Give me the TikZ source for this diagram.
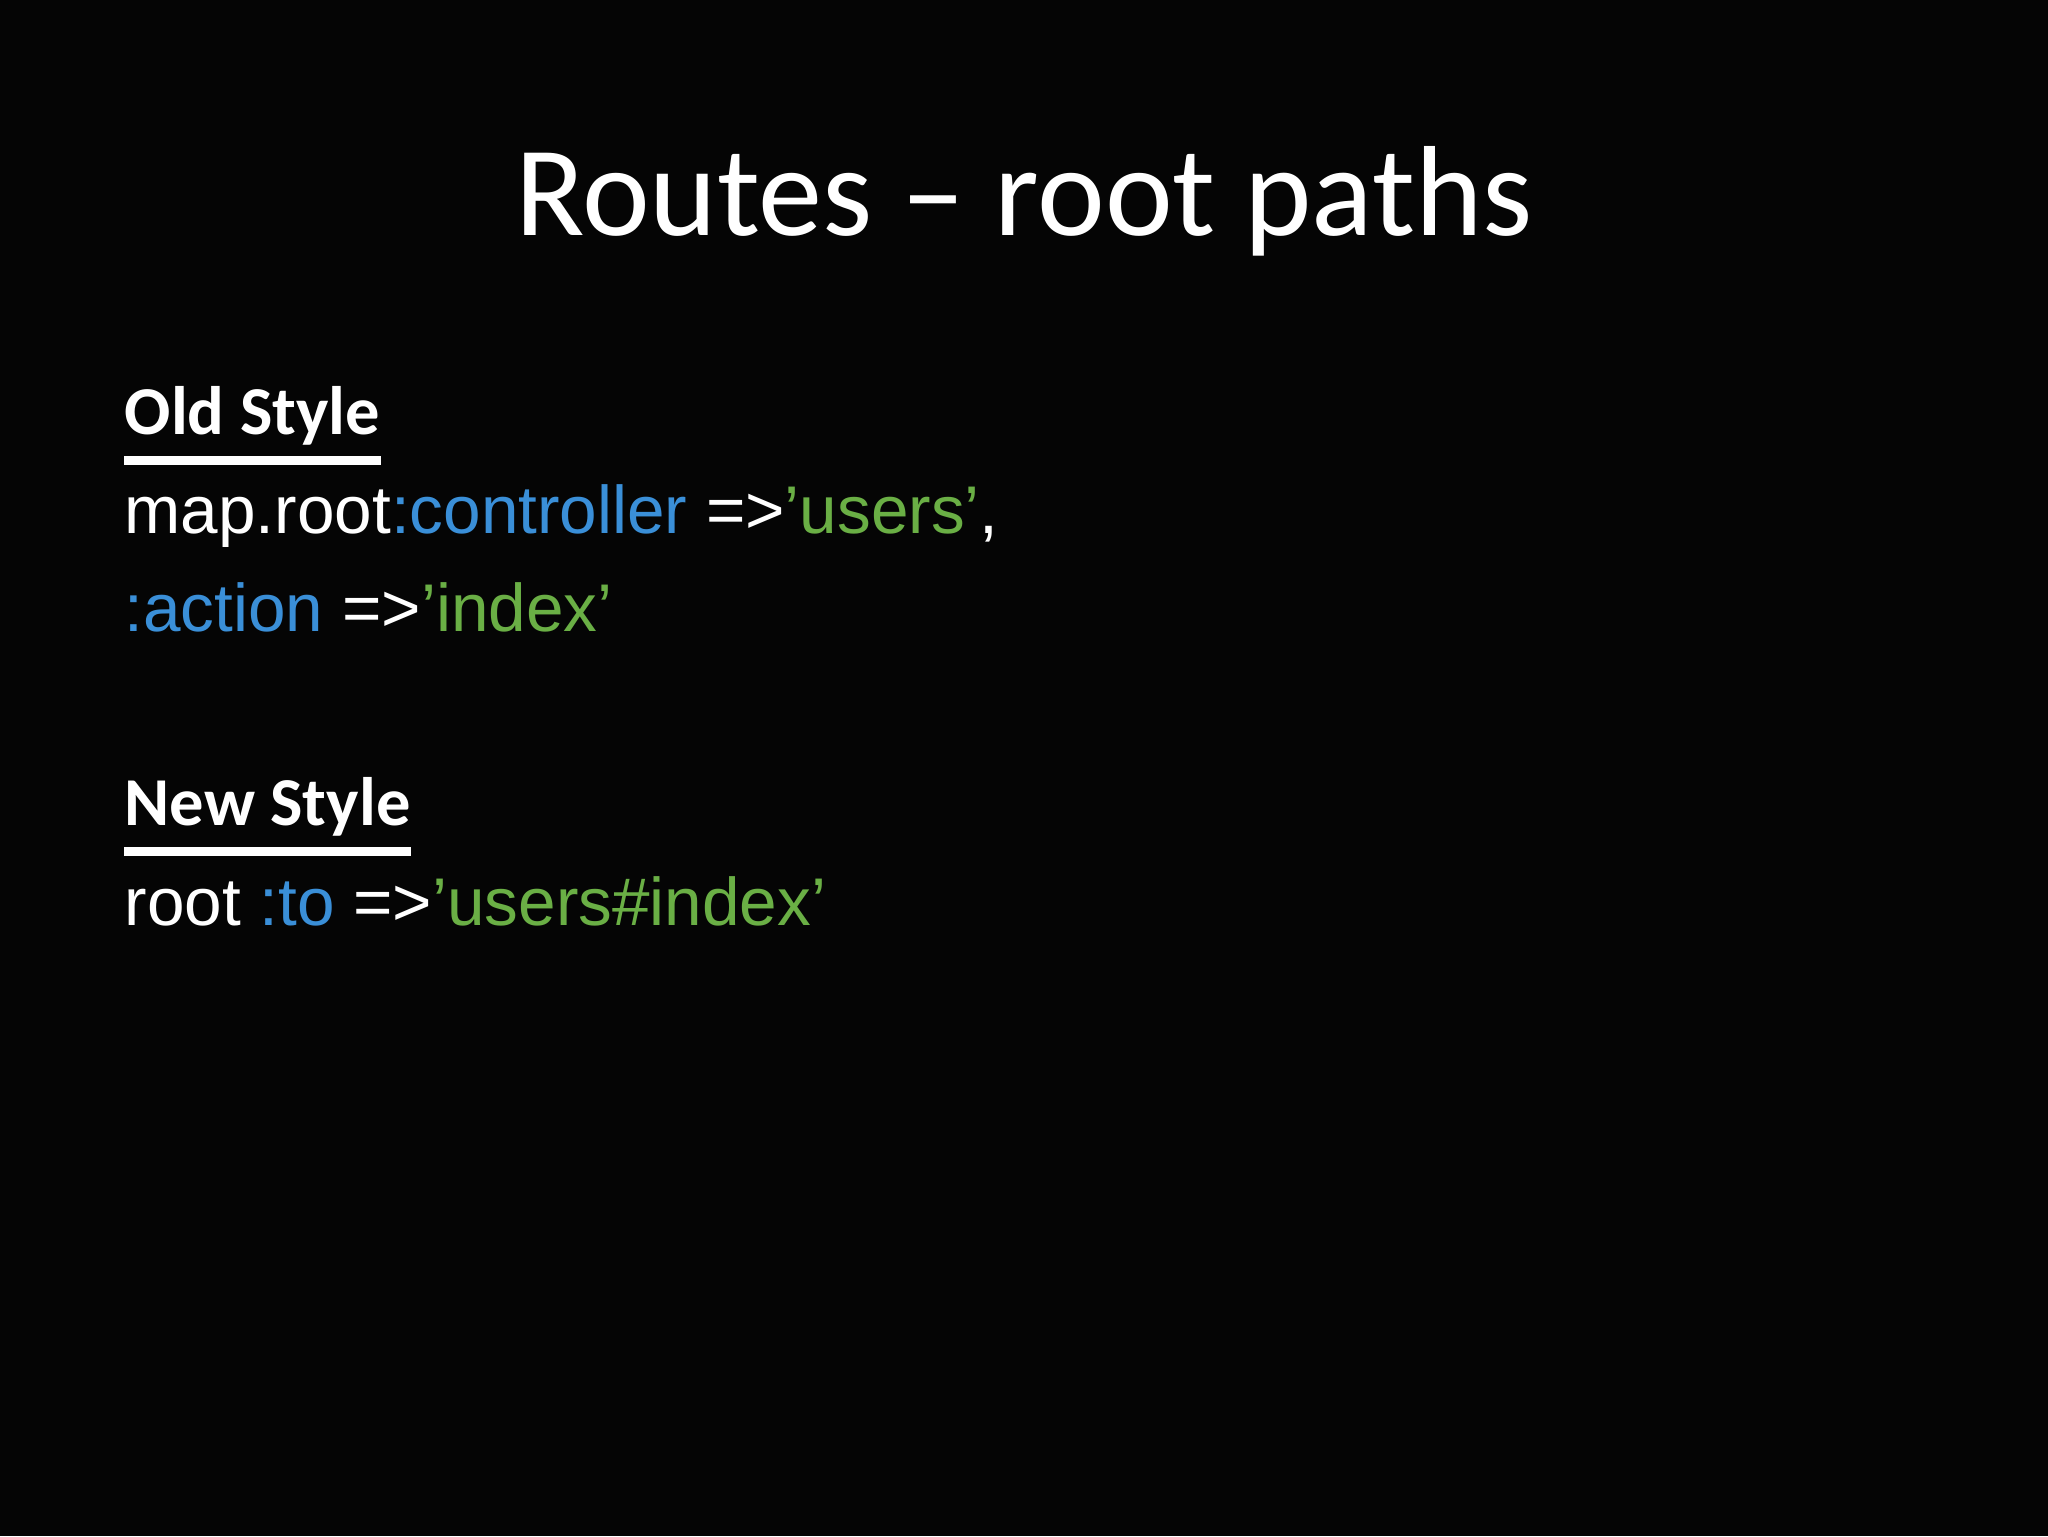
\documentclass[tikz,border=0pt]{standalone}
\usepackage{fontspec}
\setmainfont{Liberation Sans}
\newfontfamily\calfont{Carlito}
\definecolor{kblue}{HTML}{3A8FD8}
\definecolor{kgreen}{HTML}{6AAF45}
\definecolor{bg}{HTML}{050505}
\newcommand{\sq}{\char"0027\relax}
\begin{document}
\begin{tikzpicture}[x=0.1mm,y=-0.1mm,
  txt/.style={anchor=base west,inner sep=0pt,text=white,font=\fontsize{19.2pt}{22pt}\selectfont},
  head/.style={anchor=base west,inner sep=0pt,text=white,font=\calfont\bfseries\fontsize{19.5pt}{23pt}\selectfont},
  uline/.style={draw=white,line width=0.9mm}]
\fill[bg] (0,0) rectangle (2048,1536);
\useasboundingbox (0,0) rectangle (2048,1536);
\node[anchor=base,inner sep=0pt,text=white,font=\calfont\fontsize{36.5pt}{44pt}\selectfont] (title) at (1024,235) {Routes – root paths};
\node[head] (old) at (124,434) {Old Style};
\draw[uline] ([yshift=-2.6mm]old.base west) -- ([yshift=-2.6mm]old.base east);
\node[txt] (l1) at (124,533) {map.root\textcolor{kblue}{:controller} =>\textcolor{kgreen}{\sq users’},};
\node[txt] (l2) at (124,631) {\textcolor{kblue}{:action} =>\textcolor{kgreen}{\sq index’}};
\node[head] (new) at (124,825) {New Style};
\draw[uline] ([yshift=-2.6mm]new.base west) -- ([yshift=-2.6mm]new.base east);
\node[txt] (l3) at (124,925) {root \textcolor{kblue}{:to} =>\textcolor{kgreen}{\sq users\#index\sq}};
\end{tikzpicture}
\end{document}
